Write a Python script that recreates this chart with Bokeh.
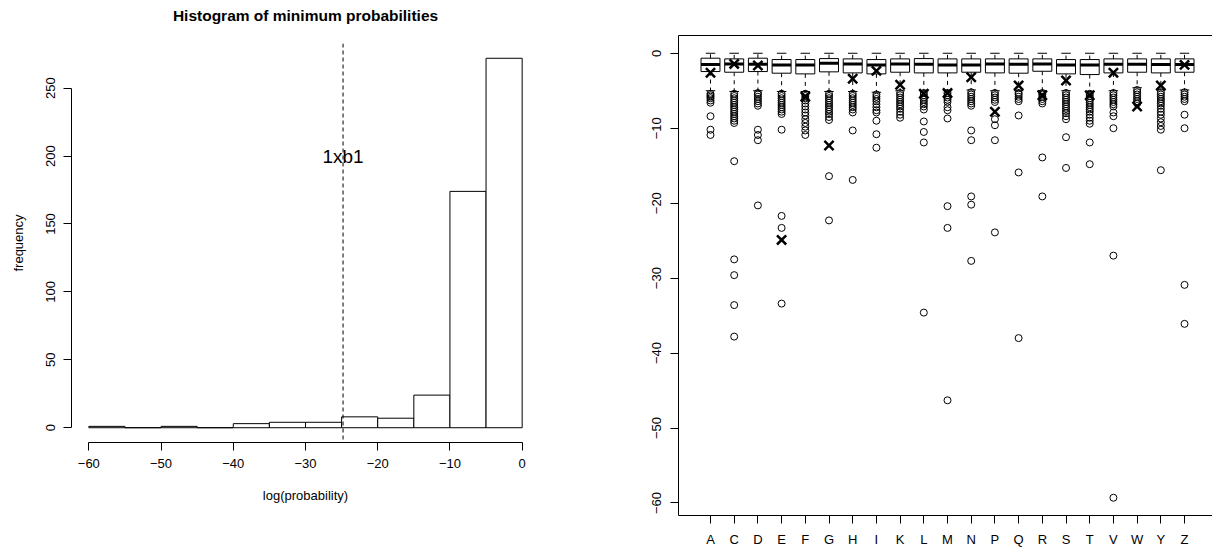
from bokeh.plotting import figure
from bokeh.models import FixedTicker, Span, LinearAxis, Range1d, ColumnDataSource, Title
from bokeh.embed import file_html
from bokeh.resources import INLINE
from bokeh.core.properties import value

FONT = "Liberation Sans"

# ---------------- Histogram data ----------------
bin_edges = [-60, -55, -50, -45, -40, -35, -30, -25, -20, -15, -10, -5, 0]
counts = [1, 0, 1, 0, 3, 4, 4, 8, 7, 24, 174, 272]
cutoff = -24.8
cutoff_label = "1xb1"
cutoff_label_y = 200
hist_xticks = [-60, -50, -40, -30, -20, -10, 0]
hist_yticks = [0, 50, 100, 150, 200, 250]
hist_title = "Histogram of minimum probabilities"

# ---------------- Boxplot data ----------------
categories = ["A", "C", "D", "E", "F", "G", "H", "I", "K", "L", "M",
              "N", "P", "Q", "R", "S", "T", "V", "W", "Y", "Z"]
q3 = [-0.66, -0.75, -0.66, -0.84, -0.84, -0.71, -0.75, -0.84, -0.75, -0.71, -0.75,
      -0.75, -0.75, -0.75, -0.75, -0.84, -0.84, -0.75, -0.75, -0.75, -0.75]
median = [-1.50, -1.42, -1.46, -1.55, -1.55, -1.33, -1.42, -1.55, -1.42, -1.46, -1.55,
          -1.55, -1.42, -1.46, -1.42, -1.55, -1.55, -1.46, -1.46, -1.51, -1.51]
q1 = [-2.44, -2.53, -2.44, -2.66, -2.75, -2.48, -2.62, -2.75, -2.53, -2.62, -2.62,
      -2.53, -2.62, -2.66, -2.40, -2.75, -2.84, -2.62, -2.53, -2.62, -2.53]
whisker_hi = [0.0, 0.0, 0.0, 0.0, 0.0, 0.0, 0.0, 0.0, 0.0, 0.0, 0.0,
              0.0, 0.0, 0.0, 0.0, 0.0, 0.0, 0.0, 0.0, 0.0, 0.0]
whisker_lo = [-5.0, -5.1, -5.0, -5.1, -5.1, -5.1, -5.1, -5.2, -5.0, -5.0, -5.0,
              -4.9, -5.0, -5.0, -5.0, -5.0, -5.1, -5.0, -4.6, -4.9, -4.9]
marked = [-2.6, -1.42, -1.64, -24.9, -5.8, -12.3, -3.4, -2.35, -4.2, -5.4, -5.3,
          -3.2, -7.8, -4.3, -5.6, -3.64, -5.6, -2.6, -7.1, -4.3, -1.55]
outliers = {
    "A": [-5.4, -5.6, -5.8, -6.0, -6.3, -6.6, -8.4, -10.2, -10.9],
    "C": [-5.4, -5.7, -6.0, -6.3, -6.6, -6.9, -7.2, -7.5, -7.8, -8.1, -8.4, -8.7, -9.0, -9.3,
          -14.4, -27.5, -29.6, -33.6, -37.8],
    "D": [-5.3, -5.5, -5.8, -6.1, -6.4, -6.7, -7.0, -10.2, -10.9, -11.6, -20.3],
    "E": [-5.4, -5.7, -6.0, -6.3, -6.6, -6.9, -7.2, -7.5, -7.8, -8.1, -10.2, -21.7, -23.3, -33.4],
    "F": [-5.4, -5.7, -6.0, -6.3, -6.7, -7.1, -7.5, -7.9, -8.3, -8.8, -9.3, -9.8, -10.3, -10.9],
    "G": [-5.4, -5.7, -6.0, -6.3, -6.6, -6.9, -7.2, -7.5, -7.8, -8.1, -8.5, -8.9, -16.4, -22.3],
    "H": [-5.4, -5.7, -6.0, -6.3, -6.6, -6.9, -7.2, -7.5, -7.9, -10.3, -16.9],
    "I": [-5.5, -5.8, -6.1, -6.4, -6.8, -7.2, -7.6, -7.9, -9.0, -10.8, -12.6],
    "K": [-5.3, -5.6, -5.9, -6.2, -6.5, -6.8, -7.1, -7.4, -7.8, -8.2, -8.6],
    "L": [-5.3, -5.6, -5.9, -6.2, -6.5, -6.8, -7.1, -7.5, -9.1, -10.5, -11.9, -34.6],
    "M": [-5.3, -5.6, -5.9, -6.2, -6.5, -7.2, -7.6, -8.7, -20.4, -23.3, -46.3],
    "N": [-5.2, -5.5, -5.8, -6.1, -6.4, -6.7, -7.0, -10.3, -11.6, -19.1, -20.2, -27.7],
    "P": [-5.3, -5.6, -5.9, -6.2, -6.5, -8.8, -9.6, -11.6, -23.9],
    "Q": [-5.3, -5.5, -5.8, -6.1, -6.4, -8.3, -15.9, -38.0],
    "R": [-5.3, -5.5, -5.8, -6.1, -6.4, -6.7, -13.9, -19.1],
    "S": [-5.3, -5.6, -5.9, -6.2, -6.5, -6.8, -7.1, -7.4, -7.7, -8.0, -8.4, -8.8, -11.2, -15.3],
    "T": [-5.4, -5.7, -6.0, -6.3, -6.6, -6.9, -7.2, -7.5, -7.8, -8.2, -8.6, -9.0, -9.4, -11.9, -14.8],
    "V": [-5.3, -5.6, -5.9, -6.2, -6.5, -6.8, -7.1, -7.9, -8.4, -10.0, -27.0, -59.3],
    "W": [-4.9, -5.2, -5.5, -5.8, -6.1, -6.4, -6.7],
    "Y": [-5.2, -5.5, -5.8, -6.1, -6.4, -6.7, -7.0, -7.4, -7.8, -8.2, -8.7, -9.2, -9.7, -10.2, -15.6],
    "Z": [-5.2, -5.5, -5.8, -6.1, -6.4, -8.2, -10.0, -30.9, -36.1],
}
box_yticks = [0, -10, -20, -30, -40, -50, -60]


def fmt(v):
    return str(v).replace("-", "\u2212")


def style_axis(ax, size="13px"):
    ax.major_label_text_font = FONT
    ax.major_label_text_font_size = size
    ax.major_label_text_color = "black"
    ax.axis_label_text_font = FONT
    ax.axis_label_text_font_size = size
    ax.axis_label_text_font_style = "normal"
    ax.axis_label_text_color = "black"
    ax.axis_line_color = "black"
    ax.major_tick_line_color = "black"
    ax.major_tick_out = 8
    ax.major_tick_in = 0
    ax.minor_tick_line_color = None


# ---------------- Left: histogram ----------------
p1 = figure(width=600, height=550, x_range=Range1d(-62.4, 2.4), y_range=Range1d(-10.88, 282.88),
            output_backend="svg", toolbar_location=None,
            min_border_left=71, min_border_right=61, min_border_top=43, min_border_bottom=108)
p1.outline_line_color = None
p1.grid.visible = False
p1.styles = {"position": "absolute", "left": "0px", "top": "0px"}

p1.quad(left=bin_edges[:-1], right=bin_edges[1:], bottom=0, top=counts,
        fill_color="white", line_color="black", line_width=1)

p1.add_layout(Span(location=cutoff, dimension="height", line_color="black",
                   line_dash="4 3", line_width=1))
p1.text(x=[cutoff], y=[cutoff_label_y], text=[cutoff_label], text_align="center",
        text_baseline="middle", text_font=value(FONT), text_font_size="19px", text_color="black")

xa = p1.xaxis[0]
style_axis(xa)
xa.ticker = FixedTicker(ticks=hist_xticks)
xa.bounds = (hist_xticks[0], hist_xticks[-1])
xa.major_label_overrides = {t: fmt(t) for t in hist_xticks}
xa.major_label_standoff = 8
xa.axis_label = "log(probability)"
xa.axis_label_standoff = 17

ya = p1.yaxis[0]
style_axis(ya)
ya.ticker = FixedTicker(ticks=hist_yticks)
ya.bounds = (hist_yticks[0], hist_yticks[-1])
ya.major_label_overrides = {t: fmt(t) for t in hist_yticks}
ya.major_label_orientation = "parallel"
ya.major_label_standoff = 8
ya.axis_label = "frequency"
ya.axis_label_standoff = 18

# a blank spacer title next to the frame lifts the real title to the top margin
p1.add_layout(Title(text=" ", text_font=FONT, text_font_size="15.5px", standoff=0), "above")
p1.add_layout(Title(text=hist_title, text_font=FONT, text_font_size="15.5px",
                    text_font_style="bold", text_color="black", align="center",
                    vertical_align="middle", standoff=0), "above")

# ---------------- Right: boxplot ----------------
pos = [i + 1 for i in range(len(categories))]
half = 0.4
src = ColumnDataSource(dict(x=pos, q1=q1, q3=q3, med=median, lo=whisker_lo, hi=whisker_hi,
                            left=[p - half for p in pos], right=[p + half for p in pos],
                            sl=[p - half / 2 for p in pos], sr=[p + half / 2 for p in pos],
                            mark=marked))

p2 = figure(width=612, height=550, x_range=Range1d(-0.35, 22.18), y_range=Range1d(-61.67, 2.37),
            output_backend="svg", toolbar_location=None,
            min_border_left=78, min_border_right=0, min_border_top=35, min_border_bottom=35)
p2.outline_line_color = None
p2.grid.visible = False
p2.styles = {"position": "absolute", "left": "600px", "top": "0px"}

# whiskers
p2.segment(x0="x", x1="x", y0="q1", y1="lo", source=src, line_color="black", line_dash="4 4", line_width=1)
p2.segment(x0="x", x1="x", y0="q3", y1="hi", source=src, line_color="black", line_dash="4 4", line_width=1)
p2.segment(x0="sl", x1="sr", y0="lo", y1="lo", source=src, line_color="black", line_width=1)
p2.segment(x0="sl", x1="sr", y0="hi", y1="hi", source=src, line_color="black", line_width=1)
# boxes
p2.quad(left="left", right="right", bottom="q1", top="q3", source=src,
        fill_color="white", line_color="black", line_width=1)
p2.segment(x0="left", x1="right", y0="med", y1="med", source=src, line_color="black", line_width=3)
# outliers
ox, oy = [], []
for c, p in zip(categories, pos):
    for v in outliers[c]:
        ox.append(p)
        oy.append(v)
p2.scatter(x=ox, y=oy, marker="circle", size=7, fill_color=None, line_color="black", line_width=1)
# marked values
p2.scatter(x="x", y="mark", source=src, marker="x", size=13, line_color="black", line_width=2.5)

bx = p2.xaxis[0]
style_axis(bx)
bx.ticker = FixedTicker(ticks=pos)
bx.major_label_overrides = {p: c for p, c in zip(pos, categories)}
bx.major_label_standoff = 8

by = p2.yaxis[0]
style_axis(by)
by.ticker = FixedTicker(ticks=box_yticks)
by.major_label_overrides = {t: fmt(t) for t in box_yticks}
by.major_label_orientation = "parallel"
by.major_label_standoff = 9

top_axis = LinearAxis(ticker=FixedTicker(ticks=[]), axis_line_color="black",
                      major_tick_line_color=None, minor_tick_line_color=None,
                      major_label_text_font_size="0px")
p2.add_layout(top_axis, "above")

open("out.html", "w").write(file_html([p1, p2], INLINE))
